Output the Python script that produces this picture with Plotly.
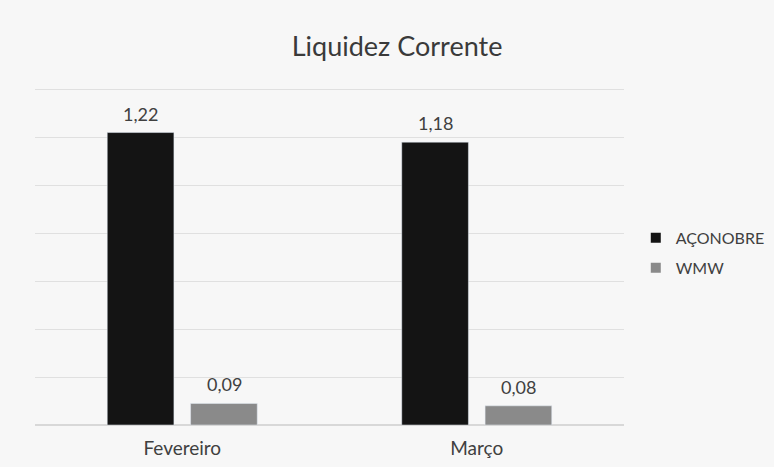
import plotly.graph_objects as go

categories = ["Fevereiro", "Março"]
aconobre = [1.22, 1.18]
wmw = [0.09, 0.08]
series_names = ["AÇONOBRE", "WMW"]
series_colors = ["#141414", "#8a8a8a"]

fig = go.Figure()
for name, vals, col in zip(series_names, [aconobre, wmw], series_colors):
    fig.add_trace(go.Bar(x=categories, y=vals, name=name, marker=dict(color=col),
                         offsetgroup=name, showlegend=False))
# legend-only entries with small square symbols
for i, (name, col) in enumerate(zip(series_names, series_colors)):
    fig.add_trace(go.Scatter(x=[None], y=[None], mode="markers", name=name,
                             legendgroup="g%d" % i,
                             marker=dict(symbol="square", size=10, color=col)))

# data labels
for si, vals in enumerate([aconobre, wmw]):
    for ci, v in enumerate(vals):
        fig.add_annotation(x=ci, y=v, xref="x", yref="y", text=f"{v:.2f}".replace(".", ","),
                           showarrow=False, yanchor="bottom", yshift=6,
                           xshift=(-1 if si == 0 else 1) * 41.75,
                           font=dict(size=18, color="#404040"))

fig.update_layout(
    width=774, height=467,
    paper_bgcolor="#f7f7f7", plot_bgcolor="#f7f7f7",
    font=dict(family="Lato, Open Sans, sans-serif", color="#404040"),
    title=dict(text="Liquidez Corrente", x=0.513, xanchor="center", y=0.9, yanchor="middle",
               font=dict(size=27, color="#3a3a3a")),
    margin=dict(l=35, r=150, t=87, b=42, autoexpand=False),
    barmode="group", bargap=0.434, bargroupgap=0.2,
    legend=dict(x=1.02, y=0.509, xanchor="left", yanchor="middle", tracegroupgap=6,
                font=dict(size=16, color="#404040"), itemwidth=30, bgcolor="rgba(0,0,0,0)"),
    showlegend=True,
)
fig.update_yaxes(range=[0, 1.41], dtick=0.2, showticklabels=False, showgrid=True,
                 gridcolor="#e0e0e0", gridwidth=1, zeroline=True, zerolinecolor="#d8d8d8", showline=False)
fig.update_xaxes(tickfont=dict(size=19, color="#404040"), showline=False, ticks="",
                 ticklabelstandoff=10, range=[-0.5, 1.5])

fig.write_html("out.html", config={"displayModeBar": False},
               post_script="document.body.style.margin='0';")
